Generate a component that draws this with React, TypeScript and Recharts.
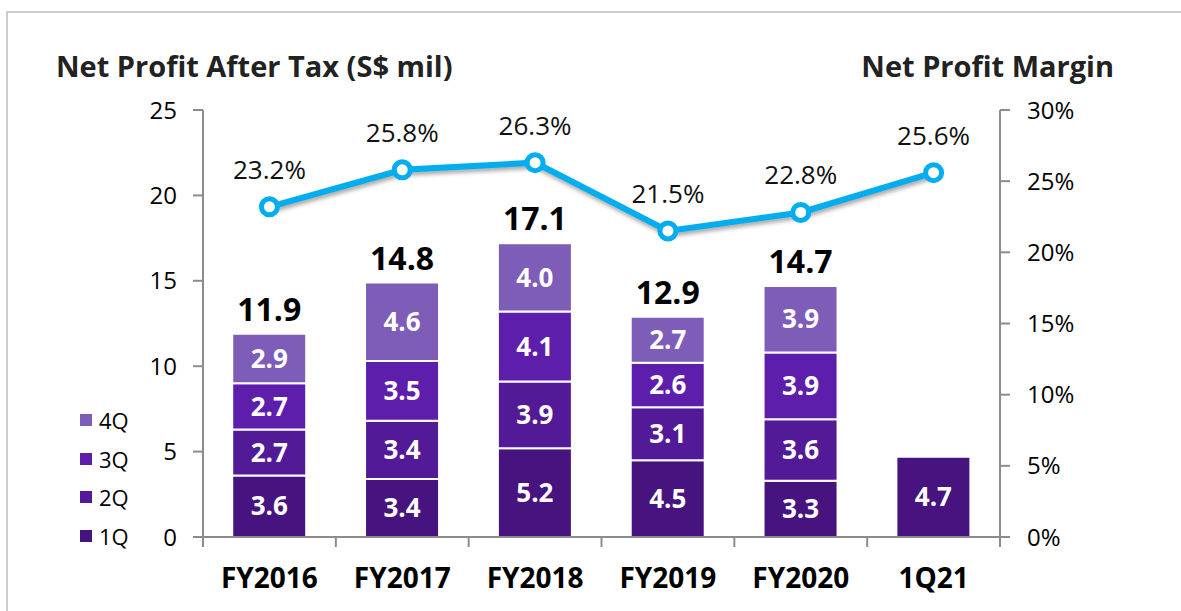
import React from "react";
import { ComposedChart, Bar, Line, XAxis, YAxis, LabelList, Legend } from "recharts";

// Lucro líquido por trimestre (barras empilhadas) + margem líquida (linha, eixo direito)
const categories = ["FY2016", "FY2017", "FY2018", "FY2019", "FY2020", "1Q21"];
const q1 = [3.6, 3.4, 5.2, 4.5, 3.3, 4.7];
const q2 = [2.7, 3.4, 3.9, 3.1, 3.6, null];
const q3 = [2.7, 3.5, 4.1, 2.6, 3.9, null];
const q4 = [2.9, 4.6, 4.0, 2.7, 3.9, null];
const totals = [11.9, 14.8, 17.1, 12.9, 14.7, null];
const margins = [23.2, 25.8, 26.3, 21.5, 22.8, 25.6];
const leftTicks = [0, 5, 10, 15, 20, 25];
const rightTicks = [0, 5, 10, 15, 20, 25, 30];

const data = categories.map((cat, i) => ({
  cat,
  q1: q1[i],
  q2: q2[i],
  q3: q3[i],
  q4: q4[i],
  total: totals[i],
  margin: margins[i],
}));

const FONT = "'Open Sans', 'Noto Sans', sans-serif";
const AXIS = "#8c8c8c";
const LINE = "#00aeef";
const C1 = "#46137f";
const C2 = "#531a98";
const C3 = "#5d1eab";
const C4 = "#7e5db9";

const fmt1 = (v: any) => (v == null ? "" : Number(v).toFixed(1));

function XTick(props: any) {
  const { x, y, payload, index, visibleTicksCount } = props;
  const half = payload && payload.offset ? payload.offset : 66.4;
  return (
    <g>
      <line x1={x - half} x2={x - half} y1={y - 10} y2={y} stroke={AXIS} strokeWidth={2} />
      {index === visibleTicksCount - 1 && (
        <line x1={x + half} x2={x + half} y1={y - 10} y2={y} stroke={AXIS} strokeWidth={2} />
      )}
      <text x={x} y={y + 41} textAnchor="middle" fontWeight={700} fontSize={28} fill="#000" fontFamily={FONT}>
        {payload.value}
      </text>
    </g>
  );
}

function LegendBox({ payload }: any) {
  const items = (payload || []).filter((p: any) => p.type !== "none").slice().reverse();
  return (
    <div style={{ display: "flex", flexDirection: "column" }}>
      {items.map((p: any) => (
        <div key={p.value} style={{ height: 38.6, display: "flex", alignItems: "center" }}>
          <span style={{ width: 12, height: 12, background: p.color, display: "inline-block", marginRight: 7 }} />
          <span style={{ fontSize: 22, color: "#000", fontFamily: FONT }}>{p.value}</span>
        </div>
      ))}
    </div>
  );
}

export default function App() {
  return (
    <div style={{ position: "absolute", left: 0, top: 0, width: 1181, height: 611, background: "#fff", overflow: "hidden", fontFamily: FONT }}>
      <style>{`.npm-line { filter: drop-shadow(1px 3px 2px rgba(0,0,0,0.35)); }`}</style>
      <div style={{ position: "absolute", left: 6, top: 11, width: 1300, height: 700, borderTop: "2px solid #cdcdcd", borderLeft: "2px solid #cdcdcd" }} />
      <div style={{ position: "absolute", left: 56, top: 46, fontSize: 29, fontWeight: 700, color: "#222", whiteSpace: "nowrap" }}>
        Net Profit After Tax (S$ mil)
      </div>
      <div style={{ position: "absolute", right: 1181 - 1114, top: 46, fontSize: 29, fontWeight: 700, color: "#222", whiteSpace: "nowrap" }}>
        Net Profit Margin
      </div>
      <div style={{ position: "absolute", left: 0, top: 0 }}>
        <ComposedChart width={1181} height={611} data={data} margin={{ top: 110, right: 0, bottom: 0, left: 0 }} barCategoryGap="22%">
          <XAxis dataKey="cat" height={74} tickLine={false} tickSize={10} tickMargin={0} axisLine={{ stroke: AXIS, strokeWidth: 2 }} tick={<XTick />} interval={0} />
          <YAxis
            width={203}
            domain={[0, 25]}
            ticks={leftTicks}
            tickSize={10}
            tickMargin={16}
            axisLine={{ stroke: AXIS, strokeWidth: 2 }}
            tickLine={{ stroke: AXIS, strokeWidth: 2 }}
            tick={{ fontSize: 24, fill: "#000", fontFamily: FONT }}
          />
          <YAxis
            yAxisId="r"
            orientation="right"
            width={181}
            domain={[0, 30]}
            ticks={rightTicks}
            tickSize={10}
            tickMargin={17}
            tickFormatter={(v: number) => `${v}%`}
            axisLine={{ stroke: AXIS, strokeWidth: 2 }}
            tickLine={{ stroke: AXIS, strokeWidth: 2 }}
            tick={{ fontSize: 24, fill: "#000", fontFamily: FONT }}
          />
          <Legend
            layout="vertical"
            align="center"
            verticalAlign="middle"
            content={<LegendBox />}
            wrapperStyle={{ left: 80, top: 401, width: 80, height: 160 }}
          />
          <Bar dataKey="q1" name="1Q" stackId="a" fill={C1} stroke="#fff" strokeWidth={2} isAnimationActive={false}>
            <LabelList dataKey="q1" position="center" formatter={fmt1} fill="#fff" fontSize={26} fontWeight={700} fontFamily={FONT} />
          </Bar>
          <Bar dataKey="q2" name="2Q" stackId="a" fill={C2} stroke="#fff" strokeWidth={2} isAnimationActive={false}>
            <LabelList dataKey="q2" position="center" formatter={fmt1} fill="#fff" fontSize={26} fontWeight={700} fontFamily={FONT} />
          </Bar>
          <Bar dataKey="q3" name="3Q" stackId="a" fill={C3} stroke="#fff" strokeWidth={2} isAnimationActive={false}>
            <LabelList dataKey="q3" position="center" formatter={fmt1} fill="#fff" fontSize={26} fontWeight={700} fontFamily={FONT} />
          </Bar>
          <Bar dataKey="q4" name="4Q" stackId="a" fill={C4} stroke="#fff" strokeWidth={2} isAnimationActive={false}>
            <LabelList dataKey="q4" position="center" formatter={fmt1} fill="#fff" fontSize={26} fontWeight={700} fontFamily={FONT} />
            <LabelList dataKey="total" position="top" offset={13} formatter={fmt1} fill="#000" fontSize={32} fontWeight={700} fontFamily={FONT} />
          </Bar>
          <Line
            yAxisId="r"
            type="linear"
            dataKey="margin"
            className="npm-line"
            stroke={LINE}
            strokeWidth={6}
            dot={{ r: 8, fill: "#fff", stroke: LINE, strokeWidth: 5 }}
            activeDot={false}
            legendType="none"
            isAnimationActive={false}
          >
            <LabelList dataKey="margin" position="top" offset={28} formatter={(v: any) => `${Number(v).toFixed(1)}%`} fill="#111" stroke="none" fontSize={26} fontFamily={FONT} />
          </Line>
        </ComposedChart>
      </div>
    </div>
  );
}
